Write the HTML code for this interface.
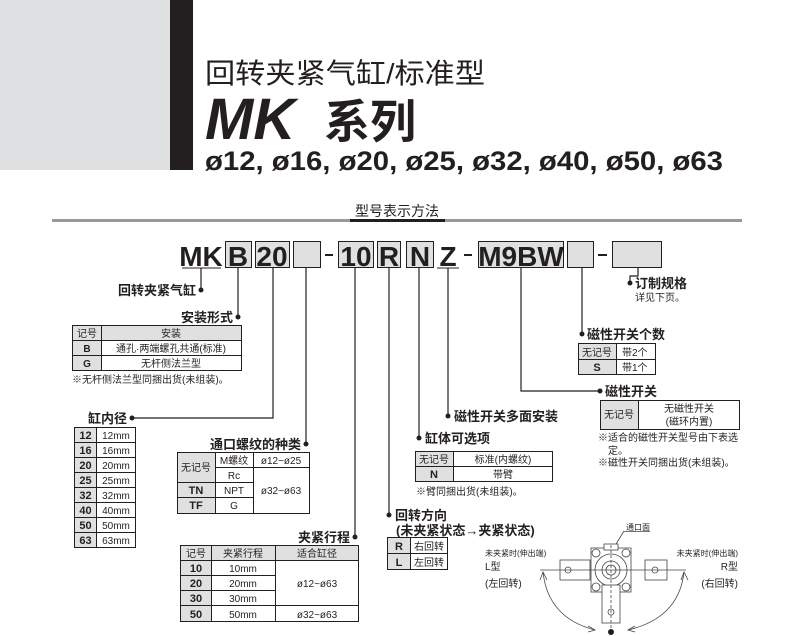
<!DOCTYPE html>
<html><head><meta charset="utf-8"><style>
html,body{margin:0;padding:0;background:#fff;}
svg{display:block;font-family:"Liberation Sans","Noto Sans CJK SC",sans-serif;}
</style></head><body>
<svg width="791" height="636" viewBox="0 0 791 636" xmlns="http://www.w3.org/2000/svg">
<!-- header -->
<rect x="0" y="0" width="170" height="170" fill="#e0e1e3"/>
<rect x="170" y="0" width="23" height="170" fill="#231f20"/>
<text x="205" y="83" font-size="28" fill="#231f20" textLength="280" lengthAdjust="spacingAndGlyphs">回转夹紧气缸/标准型</text>
<text x="205" y="139" font-size="58" font-weight="bold" font-style="italic" fill="#231f20">MK</text>
<text x="324" y="138" font-size="46" font-weight="600" fill="#231f20">系列</text>
<text x="205" y="170" font-size="27" font-weight="bold" fill="#231f20" textLength="518" lengthAdjust="spacingAndGlyphs">ø12, ø16, ø20, ø25, ø32, ø40, ø50, ø63</text>
<text x="397" y="216" font-size="14" text-anchor="middle" fill="#231f20">型号表示方法</text>
<rect x="52" y="219" width="690" height="3" fill="#999"/>
<rect x="350" y="219" width="95" height="3" fill="#231f20"/>

<!-- code row -->
<g font-size="28" font-weight="bold" fill="#231f20" text-anchor="middle">
<text x="201" y="266">MK</text>
<line x1="182" y1="268" x2="221" y2="268" stroke="#231f20" stroke-width="1"/>
<g fill="#e0e0e0" stroke="#231f20" stroke-width="1">
<rect x="225.5" y="241.5" width="26" height="26"/>
<rect x="255.5" y="241.5" width="34" height="26"/>
<rect x="293.5" y="241.5" width="27" height="26"/>
<rect x="338.5" y="241.5" width="35" height="26"/>
<rect x="377.5" y="241.5" width="23" height="26"/>
<rect x="406.5" y="241.5" width="27" height="26"/>
<rect x="478.5" y="241.5" width="85" height="26"/>
<rect x="567.5" y="241.5" width="26" height="26"/>
<rect x="612.5" y="241.5" width="49" height="26"/>
</g>
<text x="238" y="266">B</text>
<text x="272" y="266">20</text>
<rect x="325" y="254" width="8" height="2" fill="#231f20"/>
<text x="356" y="266">10</text>
<text x="389" y="266">R</text>
<text x="420" y="266">N</text>
<text x="448" y="266">Z</text>
<line x1="437" y1="268" x2="459" y2="268" stroke="#231f20"/>
<rect x="464" y="254" width="8" height="2" fill="#231f20"/>
<text x="521" y="266">M9BW</text>
<rect x="598" y="254" width="9" height="2" fill="#231f20"/>
</g>

<!-- connectors -->
<g stroke="#231f20" stroke-width="1.2" fill="none">
<path d="M201 268V290"/>
<path d="M238 268V317"/>
<path d="M273 268V418H132"/>
<path d="M306 268V444"/>
<path d="M355 268V537"/>
<path d="M389 268V515"/>
<path d="M419 268V438"/>
<path d="M448 268V416"/>
<path d="M521 268V391H600"/>
<path d="M582 268V334"/>
<path d="M638 268V276H630V283"/>
</g>
<g fill="#231f20">
<circle cx="201" cy="290" r="2.5"/><circle cx="238" cy="317" r="2.5"/>
<circle cx="132" cy="418" r="2.5"/><circle cx="306" cy="444" r="2.5"/>
<circle cx="355" cy="537" r="2.5"/><circle cx="389" cy="515" r="2.5"/>
<circle cx="419" cy="438" r="2.5"/><circle cx="448" cy="416" r="2.5"/>
<circle cx="600" cy="391" r="2.5"/><circle cx="582" cy="334" r="2.5"/>
<circle cx="630" cy="283" r="2.5"/>
</g>

<!-- labels -->
<g font-size="13" font-weight="bold" fill="#231f20">
<text x="196" y="295" text-anchor="end">回转夹紧气缸</text>
<text x="233" y="322" text-anchor="end">安装形式</text>
<text x="127" y="423" text-anchor="end">缸内径</text>
<text x="301" y="449" text-anchor="end">通口螺纹的种类</text>
<text x="350" y="542" text-anchor="end">夹紧行程</text>
<text x="395" y="520">回转方向</text>
<text x="396" y="535">(未夹紧状态→夹紧状态)</text>
<text x="425" y="443">缸体可选项</text>
<text x="454" y="421">磁性开关多面安装</text>
<text x="605" y="396">磁性开关</text>
<text x="587" y="339">磁性开关个数</text>
<text x="635" y="288">订制规格</text>
</g>
<g font-size="10" fill="#231f20">
<text x="635" y="301">详见下页。</text>
<text x="72" y="383">※无杆侧法兰型同捆出货(未组装)。</text>
<text x="416" y="495">※臂同捆出货(未组装)。</text>
<text x="598" y="441">※适合的磁性开关型号由下表选</text>
<text x="608" y="454">定。</text>
<text x="598" y="466">※磁性开关同捆出货(未组装)。</text>
</g>

<!-- table 安装形式 -->
<g stroke="#231f20" stroke-width="1">
<rect x="72.5" y="325.5" width="169" height="45" fill="#fff"/>
<rect x="72.5" y="325.5" width="169" height="15" fill="#e0e0e0"/>
<rect x="72.5" y="340.5" width="29" height="30" fill="#e0e0e0"/>
<line x1="101.5" y1="325" x2="101.5" y2="371"/>
<line x1="72" y1="355.5" x2="242" y2="355.5"/>
</g>
<g font-size="10" fill="#231f20" text-anchor="middle">
<text x="87" y="337">记号</text><text x="171" y="337">安装</text>
<text x="87" y="352" font-weight="bold">B</text><text x="171" y="352">通孔·两端螺孔共通(标准)</text>
<text x="87" y="367" font-weight="bold">G</text><text x="171" y="367">无杆侧法兰型</text>
</g>

<!-- bore table -->
<g stroke="#231f20" stroke-width="1">
<rect x="74.5" y="427.5" width="61" height="120" fill="#fff"/>
<rect x="74.5" y="427.5" width="22" height="120" fill="#e0e0e0"/>
<path d="M74 442.5H136M74 457.5H136M74 472.5H136M74 487.5H136M74 502.5H136M74 517.5H136M74 532.5H136"/>
</g>
<g font-size="10" fill="#231f20">
<g font-weight="bold" text-anchor="middle" font-size="11">
<text x="85.5" y="439">12</text><text x="85.5" y="454">16</text><text x="85.5" y="469">20</text><text x="85.5" y="484">25</text>
<text x="85.5" y="499">32</text><text x="85.5" y="514">40</text><text x="85.5" y="529">50</text><text x="85.5" y="544">63</text>
</g>
<g text-anchor="middle">
<text x="116" y="439">12mm</text><text x="116" y="454">16mm</text><text x="116" y="469">20mm</text><text x="116" y="484">25mm</text>
<text x="116" y="499">32mm</text><text x="116" y="514">40mm</text><text x="116" y="529">50mm</text><text x="116" y="544">63mm</text>
</g>
</g>

<!-- port thread table -->
<g stroke="#231f20" stroke-width="1">
<rect x="177.5" y="452.5" width="132" height="61" fill="#fff"/>
<rect x="177.5" y="452.5" width="38" height="61" fill="#e0e0e0"/>
<path d="M215.5 452V514M253.5 452V514M177 482.5H253M215 467.5H310M177 497.5H253"/>
</g>
<g font-size="10" fill="#231f20" text-anchor="middle">
<text x="196" y="471">无记号</text>
<text x="196" y="494" font-weight="bold" font-size="11">TN</text>
<text x="196" y="509" font-weight="bold" font-size="11">TF</text>
<text x="234" y="464">M螺纹</text><text x="234" y="479">Rc</text><text x="234" y="494">NPT</text><text x="234" y="509">G</text>
<text x="281" y="464">ø12~ø25</text><text x="281" y="494">ø32~ø63</text>
</g>

<!-- stroke table -->
<g stroke="#231f20" stroke-width="1">
<rect x="180.5" y="545.5" width="178" height="76" fill="#fff"/>
<rect x="180.5" y="545.5" width="178" height="15" fill="#e0e0e0"/>
<rect x="180.5" y="545.5" width="31" height="76" fill="#e0e0e0"/>
<path d="M211.5 545V622M275.5 545V622M180 560.5H359M180 575.5H276M180 590.5H276M180 605.5H359"/>
</g>
<g font-size="10" fill="#231f20" text-anchor="middle">
<text x="196" y="557">记号</text><text x="243" y="557">夹紧行程</text><text x="317" y="557">适合缸径</text>
<g font-weight="bold" font-size="11"><text x="196" y="572">10</text><text x="196" y="587">20</text><text x="196" y="602">30</text><text x="196" y="618">50</text></g>
<text x="243" y="572">10mm</text><text x="243" y="587">20mm</text><text x="243" y="602">30mm</text><text x="243" y="618">50mm</text>
<text x="317" y="587">ø12~ø63</text><text x="317" y="618">ø32~ø63</text>
</g>

<!-- R/L table -->
<g stroke="#231f20" stroke-width="1">
<rect x="387.5" y="537.5" width="60" height="32" fill="#fff"/>
<rect x="387.5" y="537.5" width="23" height="32" fill="#e0e0e0"/>
<path d="M410.5 537V570M387 553.5H448"/>
</g>
<g font-size="10" fill="#231f20">
<text x="399" y="550" text-anchor="middle" font-weight="bold" font-size="11">R</text>
<text x="399" y="566" text-anchor="middle" font-weight="bold" font-size="11">L</text>
<text x="414" y="550">右回转</text><text x="414" y="566">左回转</text>
</g>

<!-- body option table -->
<g stroke="#231f20" stroke-width="1">
<rect x="415.5" y="451.5" width="137" height="30" fill="#fff"/>
<rect x="415.5" y="451.5" width="38" height="30" fill="#e0e0e0"/>
<path d="M453.5 451V482M415 466.5H553"/>
</g>
<g font-size="10" fill="#231f20" text-anchor="middle">
<text x="434" y="463">无记号</text><text x="434" y="478" font-weight="bold" font-size="11">N</text>
<text x="503" y="463">标准(内螺纹)</text><text x="503" y="478">带臂</text>
</g>

<!-- switch count table -->
<g stroke="#231f20" stroke-width="1">
<rect x="578.5" y="343.5" width="77" height="31" fill="#fff"/>
<rect x="578.5" y="343.5" width="38" height="31" fill="#e0e0e0"/>
<path d="M616.5 343V375M578 359.5H656"/>
</g>
<g font-size="10" fill="#231f20">
<text x="597" y="356" text-anchor="middle">无记号</text>
<text x="597" y="371" text-anchor="middle" font-weight="bold" font-size="11">S</text>
<text x="622" y="356">带2个</text><text x="622" y="371">带1个</text>
</g>

<!-- switch table -->
<g stroke="#231f20" stroke-width="1">
<rect x="600.5" y="400.5" width="139" height="29" fill="#fff"/>
<rect x="600.5" y="400.5" width="38" height="29" fill="#e0e0e0"/>
<path d="M638.5 400V430"/>
</g>
<g font-size="10" fill="#231f20" text-anchor="middle">
<text x="619" y="418">无记号</text>
<text x="689" y="412">无磁性开关</text><text x="689" y="425">(磁环内置)</text>
</g>

<!-- drawing -->
<g fill="#231f20">
<text x="626" y="530" font-size="8">通口面</text>
<text x="485" y="556" font-size="8">未夹紧时(伸出端)</text>
<text x="485" y="570" font-size="10">L型</text>
<text x="485" y="587" font-size="10">(左回转)</text>
<text x="738" y="556" font-size="8" text-anchor="end">未夹紧时(伸出端)</text>
<text x="738" y="570" font-size="10" text-anchor="end">R型</text>
<text x="738" y="587" font-size="10" text-anchor="end">(右回转)</text>
</g>
<g stroke="#444" stroke-width="0.8" fill="none">
<line x1="624" y1="531.5" x2="650" y2="531.5"/>
<path d="M624 531L616 544"/>
<rect x="560" y="560" width="30" height="20" fill="#fff"/>
<rect x="645" y="560" width="22" height="20" fill="#fff"/>
<rect x="591" y="548" width="40" height="44" fill="#fff"/>
<rect x="604" y="544" width="14" height="6" fill="#fff"/>
<circle cx="596" cy="553" r="4"/><circle cx="626" cy="553" r="4"/>
<circle cx="596" cy="587" r="4"/><circle cx="626" cy="587" r="4"/>
<circle cx="611" cy="570" r="16"/><circle cx="611" cy="570" r="9"/><circle cx="611" cy="570" r="5"/>
<rect x="602" y="585" width="18" height="38" fill="#fff"/>
<circle cx="611" cy="612" r="3"/>
<circle cx="568" cy="570" r="3"/><circle cx="655" cy="570" r="3"/>
<line x1="540" y1="570" x2="686" y2="570"/>
<line x1="611" y1="545" x2="611" y2="630" stroke-dasharray="3,2"/>
<path d="M543 572Q548 618 595 630"/>
<path d="M684 572Q679 618 628 630"/>
<path d="M540 580L543 572L547 580M588 626L595 630L588 632M681 580L684 572L688 580M635 626L628 630L635 632"/>
</g>
<circle cx="611" cy="632" r="3" fill="#231f20"/>
</svg>
</body></html>
